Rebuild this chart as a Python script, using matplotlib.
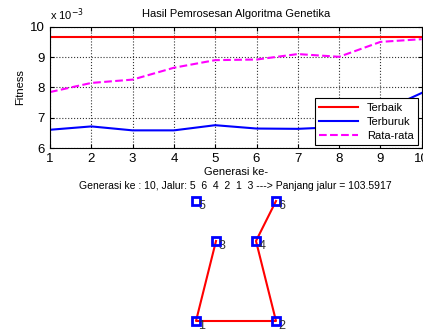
import numpy as np
import matplotlib
matplotlib.use("Agg")
import matplotlib.pyplot as plt
from matplotlib.ticker import FuncFormatter

plt.rcParams['font.family'] = ['Liberation Sans', 'DejaVu Sans']

# data
generasi = [1, 2, 3, 4, 5, 6, 7, 8, 9, 10]
terbaik = [0.00967] * 10
terburuk = [0.00661, 0.00672, 0.00659, 0.00659, 0.00676, 0.00665, 0.00664, 0.00670, 0.00720, 0.00782]
rata_rata = [0.00785, 0.00815, 0.00826, 0.00865, 0.00890, 0.00892, 0.00910, 0.00901, 0.00950, 0.00959]

kota = ['1', '2', '3', '4', '5', '6']
kota_x = [1, 5, 2, 4, 1, 5]
kota_y = [1, 1, 5, 5, 7, 7]
jalur_garis = [6, 4, 2, 1, 3]
judul_jalur = 'Generasi ke : 10, Jalur: 5  6  4  2  1  3 ---> Panjang jalur = 103.5917'

W, H = 423, 330
fig = plt.figure(figsize=(W / 100, H / 100), dpi=100)

# grafik fitness
ax = fig.add_axes([50 / W, (H - 148.3) / H, 371.7 / W, 121.6 / H])
ax.plot(generasi, terbaik, color='red', lw=1.5, label='Terbaik')
ax.plot(generasi, terburuk, color='blue', lw=1.5, label='Terburuk')
ax.plot(generasi, rata_rata, color='magenta', lw=1.5, ls='--', label='Rata-rata')
ax.set_xlim(1, 10)
ax.set_ylim(0.006, 0.010)
ax.set_xticks(generasi)
ax.set_yticks([0.006, 0.007, 0.008, 0.009, 0.010])
ax.yaxis.set_major_formatter(FuncFormatter(lambda v, p: '%g' % round(v * 1e3, 3)))
ax.text(0.0, 1.03, 'x 10$^{-3}$', transform=ax.transAxes, fontsize=8, ha='left', va='bottom')
ax.tick_params(direction='in', labelsize=9.5, length=3, top=True, right=True)
ax.grid(True, ls=':', color='#333333', lw=0.8)
ax.set_title('Hasil Pemrosesan Algoritma Genetika', fontsize=8, pad=7)
ax.set_xlabel('Generasi ke-', fontsize=8, labelpad=1)
ax.set_ylabel('Fitness', fontsize=8, labelpad=4)
leg = ax.legend(loc='lower right', fontsize=8, fancybox=False, framealpha=1,
                edgecolor='black', handlelength=3.5, borderaxespad=0.3,
                labelspacing=0.35)
leg.get_frame().set_linewidth(0.8)

# grafik jalur
ax2 = fig.add_axes([176 / W, 1 / H, 120 / W, 136 / H])
ax2.set_xlim(0, 6)
ax2.set_ylim(0.6, 7.4)
ax2.axis('off')
gx = [kota_x[k - 1] for k in jalur_garis]
gy = [kota_y[k - 1] for k in jalur_garis]
ax2.plot(gx, gy, color='red', lw=1.5, clip_on=False)
ax2.plot(kota_x, kota_y, ls='none', marker='s', ms=6, mfc='none', mec='blue',
         mew=2, clip_on=False)
for n, x, y in zip(kota, kota_x, kota_y):
    ax2.text(x + 0.12, y + 0.05, n, fontsize=9, color='#333333', va='top', ha='left')
fig.text(235 / W, 1 - 186 / H, judul_jalur, fontsize=7.5, ha='center', va='center')

fig.savefig('out.png', dpi=100)
